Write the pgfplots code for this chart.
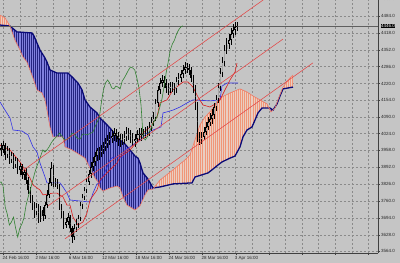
\documentclass[border=0pt]{standalone}
\usepackage{fontspec}
\setmainfont{Liberation Sans}
\usepackage{pgfplots}
\pgfplotsset{compat=1.18}
\usepackage{pgfplotstable}
\usepgfplotslibrary{fillbetween}
\usetikzlibrary{patterns.meta}

\definecolor{bg}{RGB}{197,197,197}
\definecolor{gridc}{RGB}{138,138,138}
\definecolor{navyB}{RGB}{10,10,120}
\definecolor{spanA}{RGB}{240,120,100}
\definecolor{cloudblue}{RGB}{128,128,222}
\definecolor{stripeblue}{RGB}{36,36,128}
\definecolor{cloudorange}{RGB}{234,206,194}
\definecolor{stripeorange}{RGB}{240,150,120}
\definecolor{tenkan}{RGB}{220,30,30}
\definecolor{kijun}{RGB}{50,50,230}
\definecolor{chikou}{RGB}{50,130,50}
\definecolor{chan}{RGB}{228,70,70}
\definecolor{pline}{RGB}{95,95,95}
\pagecolor{bg}

\newcommand\tl{\fontsize{4.5}{5}\selectfont}

% candles: bar index, open, high, low, close
\pgfplotstableread{
i o h l c
0 3968 3987 3936 3960
1 3960 3995 3948 3979
2 3979 3987 3921 3940
3 3940 3975 3928 3960
4 3960 3968 3905 3921
5 3921 3952 3909 3940
6 3940 3948 3885 3901
7 3901 3932 3889 3921
8 3921 3928 3866 3882
9 3882 3909 3862 3897
10 3897 3905 3846 3862
11 3862 3885 3842 3874
12 3874 3889 3827 3842
13 3842 3854 3788 3803
14 3803 3815 3752 3772
15 3772 3784 3725 3744
16 3744 3756 3694 3717
17 3717 3752 3705 3737
18 3737 3748 3674 3694
19 3694 3741 3678 3725
20 3725 3737 3682 3701
21 3701 3756 3690 3744
22 3744 3803 3733 3784
23 3784 3850 3772 3831
24 3831 3913 3819 3889
25 3889 3901 3815 3831
26 3831 3850 3815 3835
27 3835 3846 3807 3819
28 3819 3827 3725 3737
29 3737 3748 3694 3709
30 3709 3721 3650 3666
31 3666 3694 3654 3678
32 3678 3713 3666 3697
33 3697 3705 3639 3654
34 3654 3662 3596 3619
35 3619 3670 3607 3654
36 3654 3690 3639 3670
37 3670 3705 3654 3694
38 3694 3756 3682 3744
39 3744 3788 3729 3776
40 3776 3815 3764 3803
41 3803 3850 3791 3835
42 3835 3882 3823 3866
43 3866 3913 3850 3893
44 3893 3932 3878 3913
45 3913 3952 3897 3936
46 3936 3968 3917 3960
47 3960 3972 3921 3952
48 3952 3979 3932 3960
49 3960 3991 3944 3972
50 3972 4007 3956 3987
51 3987 4019 3968 3999
52 3999 4030 3979 4007
53 4007 4038 3987 4015
54 4015 4046 3995 4026
55 4026 4042 3991 4015
56 4015 4030 3975 4003
57 4003 4022 3972 3999
58 3999 4022 3979 4003
59 4003 4034 3983 4011
60 4011 4050 3995 4026
61 4026 4046 3999 4022
62 4022 4038 3987 4011
63 4011 4026 3975 4003
64 3995 4022 3972 4003
65 4003 4038 3987 4022
66 4019 4046 3999 4022
67 4022 4046 3995 4019
68 4019 4042 4003 4022
69 4022 4050 4007 4026
70 4026 4054 4011 4030
71 4030 4069 4015 4050
72 4050 4089 4034 4069
73 4069 4109 4054 4085
74 4085 4159 4073 4144
75 4144 4210 4128 4195
76 4195 4242 4179 4222
77 4222 4253 4206 4234
78 4234 4250 4203 4222
79 4222 4238 4183 4203
80 4203 4222 4175 4199
81 4199 4226 4183 4210
82 4210 4226 4187 4206
83 4206 4222 4175 4199
84 4199 4246 4183 4230
85 4230 4261 4214 4242
86 4242 4273 4226 4257
87 4257 4293 4242 4273
88 4273 4304 4257 4285
89 4285 4300 4261 4281
90 4281 4296 4253 4273
91 4273 4285 4226 4242
92 4242 4253 4183 4203
93 4203 4214 4116 4136
94 4136 4148 3991 4011
95 4011 4030 3979 3999
96 3999 4030 3983 4011
97 4011 4050 3999 4030
98 4030 4069 4019 4050
99 4050 4089 4038 4069
100 4069 4105 4054 4081
101 4081 4120 4062 4097
102 4097 4144 4081 4128
103 4128 4175 4112 4159
104 4159 4222 4144 4206
105 4206 4281 4191 4261
106 4261 4324 4246 4304
107 4304 4371 4289 4351
108 4351 4398 4336 4375
109 4375 4414 4355 4390
110 4390 4437 4371 4414
111 4414 4453 4398 4430
112 4430 4461 4410 4441
113 4441 4461 4426 4446
}\candles

\pgfplotstableread{
x y
0 4488
5 4477
10 4445
15 4390
20 4351
23 4324
27 4304
30 4273
33 4242
37 4195
42 4183
45 4156
47 4116
50 4050
53 4011
63 4011
65 3972
72 3960
77 3948
85 3928
90 3889
95 3850
98 3835
100 3811
103 3799
110 3811
117 3819
120 3811
123 3776
127 3744
130 3737
135 3725
140 3741
145 3784
148 3803
153 3807
160 3842
173 3882
185 3921
190 3940
195 3999
200 4058
205 4089
210 4109
215 4136
220 4163
230 4183
240 4199
247 4187
253 4171
260 4156
267 4140
271 4109
275 4124
278 4156
283 4206
290 4242
293 4253
}\spanA

\pgfplotstableread{
x y
0 4449
10 4445
17 4422
32 4418
34 4406
40 4351
45 4320
47 4304
50 4273
57 4261
68 4261
72 4246
78 4222
82 4195
85 4156
90 4128
97 4105
100 4085
105 4066
110 4046
115 4022
120 3999
125 3983
130 3960
135 3936
138 3928
140 3909
143 3870
148 3846
153 3811
160 3815
173 3827
192 3831
195 3854
208 3870
212 3882
218 3901
222 3913
230 3928
235 3936
240 3972
243 4011
247 4038
252 4050
255 4077
258 4105
262 4124
270 4124
273 4116
277 4140
280 4171
283 4199
293 4206
}\spanB

\pgfplotstableread{
x y
0 3979
10 3960
20 3913
30 3850
33 3823
40 3803
43 3784
53 3791
57 3791
63 3776
67 3744
70 3744
73 3697
78 3666
83 3678
87 3713
90 3764
97 3803
100 3842
103 3854
110 3882
117 3909
120 3932
130 3960
137 3991
143 4026
150 4050
157 4089
160 4144
167 4156
173 4195
183 4226
188 4226
193 4206
198 4167
203 4136
210 4128
217 4144
220 4156
225 4195
230 4234
235 4265
237 4300
}\tenkan

\pgfplotstableread{
x y
0 4148
5 4116
10 4085
13 4038
22 4034
28 4019
33 3972
37 3952
40 3909
45 3854
47 3831
60 3831
63 3815
67 3791
70 3764
90 3756
93 3791
97 3827
100 3831
105 3874
110 3921
113 3932
123 3932
125 3960
130 3972
140 3999
147 4026
153 4038
161 4050
163 4105
167 4109
173 4116
180 4128
187 4144
193 4156
210 4152
220 4156
222 4210
227 4222
238 4222
}\kijun

\begin{document}
\begin{tikzpicture}
\begin{axis}[
  set layers,
  at={(0pt,10pt)}, anchor=south west,
  scale only axis, width=378pt, height=253pt,
  xmin=0, xmax=378, ymin=3556.5, ymax=4547,
  clip mode=individual,
  axis x line*=bottom, axis y line*=right,
  axis line style={-, black!75, line width=0.5pt},
  tick align=outside, major tick length=2pt, minor tick length=0pt,
  tick style={black!75, line width=0.4pt},
  xtick={3.3,36.5,69.7,102.9,136.1,169.3,202.5,235.7,268.9,302.1,335.3,368.5},
  xticklabels={24 Feb 16:00,2 Mar 16:00,6 Mar 16:00,12 Mar 16:00,18 Mar 16:00,24 Mar 16:00,28 Mar 16:00,3 Apr 16:00,{},{},{},{}},
  minor xtick={19.9,53.1,86.3,119.5,152.7,185.9,219.1,252.3,285.5,318.7,351.9},
  ytick={3564,3628,3694,3760,3826,3892,3958,4024,4090,4154,4220,4286,4352,4418,4484},
  yticklabels={3564.0,3628.0,3694.0,3760.0,3826.0,3892.0,3958.0,4024.0,4090.0,4154.0,4220.0,4286.0,4352.0,4418.0,4484.0},
  grid=both,
  major grid style={gridc, line width=0.45pt, dash pattern=on 2pt off 2pt},
  minor grid style={gridc, line width=0.45pt, dash pattern=on 2pt off 2pt},
  ticklabel style={font=\tl, text=black!85},
  xticklabel style={anchor=north west, inner sep=0.5pt, xshift=-1.5pt, yshift=-0.5pt},
  yticklabel style={anchor=west, inner sep=0.5pt, xshift=0.5pt},
]

% Senkou spans
\addplot[name path=B, navyB, line width=1.3pt] table[x=x,y=y] {\spanB};
\addplot[name path=A, spanA, line width=0.6pt] table[x=x,y=y] {\spanA};

% cloud: orange (A above B) and blue (B above A)
\addplot[fill=cloudorange, draw=none] fill between[of=A and B, soft clip={domain=0:10}];
\addplot[fill=cloudorange, draw=none] fill between[of=A and B, soft clip={domain=153.9:269.3}];
\addplot[fill=cloudorange, draw=none] fill between[of=A and B, soft clip={domain=275.9:293}];
\addplot[draw=none, pattern={Lines[angle=90,distance=2.09pt,line width=0.6pt]}, pattern color=stripeorange] fill between[of=A and B, soft clip={domain=0:10}];
\addplot[draw=none, pattern={Lines[angle=90,distance=2.09pt,line width=0.6pt]}, pattern color=stripeorange] fill between[of=A and B, soft clip={domain=153.9:269.3}];
\addplot[draw=none, pattern={Lines[angle=90,distance=2.09pt,line width=0.6pt]}, pattern color=stripeorange] fill between[of=A and B, soft clip={domain=275.9:293}];
\addplot[fill=cloudblue, draw=none] fill between[of=A and B, soft clip={domain=10:153.9}];
\addplot[fill=cloudblue, draw=none] fill between[of=A and B, soft clip={domain=269.3:275.9}];
\addplot[draw=none, pattern={Lines[angle=90,distance=2.09pt,line width=0.7pt]}, pattern color=stripeblue] fill between[of=A and B, soft clip={domain=10:153.9}];
\addplot[draw=none, pattern={Lines[angle=90,distance=2.09pt,line width=0.7pt]}, pattern color=stripeblue] fill between[of=A and B, soft clip={domain=269.3:275.9}];

% current price line
\addplot[pline, line width=0.5pt] coordinates {(0,4446) (378,4446)};

% Kijun and Tenkan
\addplot[kijun, line width=0.6pt] table[x=x,y=y] {\kijun};
\addplot[tenkan, line width=0.6pt] table[x=x,y=y] {\tenkan};

% candle wicks
\addplot[draw=none, mark=none, error bars/.cd, y dir=both, y explicit, error mark=none,
  error bar style={draw=black, line width=0.45pt}]
  table[x expr={1+2.09*\thisrow{i}}, y expr={(\thisrow{h}+\thisrow{l})/2}, y error expr={(\thisrow{h}-\thisrow{l})/2}] {\candles};
% candle bodies
\addplot[draw=none, mark=none, error bars/.cd, y dir=both, y explicit, error mark=none,
  error bar style={draw=black, line width=1.4pt}]
  table[x expr={1+2.09*\thisrow{i}}, y expr={(\thisrow{o}+\thisrow{c})/2}, y error expr={max(abs(\thisrow{o}-\thisrow{c})/2,1.5)}] {\candles};
% light inner of rising candles
\addplot[draw=none, mark=none, error bars/.cd, y dir=both, y explicit, error mark=none,
  error bar style={draw=black!35, line width=0.4pt}]
  table[x expr={1+2.09*\thisrow{i}}, y expr={(\thisrow{o}+\thisrow{c})/2}, y error expr={(\thisrow{c}>\thisrow{o})*max(abs(\thisrow{o}-\thisrow{c})/2-2.5,0)+0.01}] {\candles};

% Chikou span: closes shifted back 26 bars
\addplot[chikou, line width=0.6pt] table[x expr={1+2.09*(\thisrow{i}-26)}, y=c] {\candles};

% equidistant channel
\addplot[chan, line width=0.55pt] coordinates {(22,3877) (275,4580)};
\addplot[chan, line width=0.55pt] coordinates {(48,3741) (283,4394)};
\addplot[chan, line width=0.55pt] coordinates {(65,3612) (313,4301)};

% labels on the price scale
\node[font=\tl, text=black!85, anchor=west, inner sep=0.5pt, xshift=2.5pt] at (axis cs:378,4550) {4550.0};
\node[font=\tl, fill=black, text=white, anchor=west, inner sep=0.5pt, xshift=2.5pt] at (axis cs:378,4446) {4446.0};
\end{axis}
\pgfresetboundingbox
\path (0,0) rectangle (400pt,263pt);
\end{tikzpicture}
\end{document}
